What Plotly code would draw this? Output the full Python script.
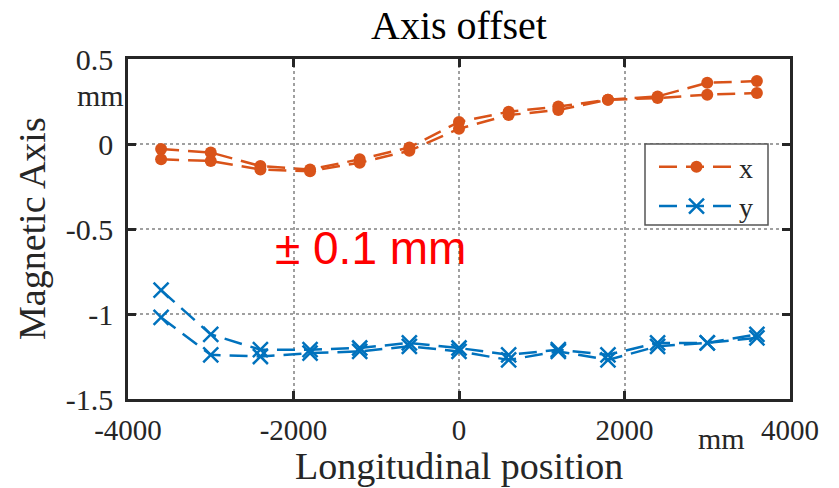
import plotly.graph_objects as go

# Data
positions = [-3600, -3000, -2400, -1800, -1200, -600, 0, 600, 1200, 1800, 2400, 3000, 3600]
x_pass1 = [-0.03, -0.05, -0.13, -0.15, -0.09, -0.02, 0.13, 0.19, 0.22, 0.26, 0.28, 0.36, 0.37]
x_pass2 = [-0.09, -0.10, -0.15, -0.16, -0.11, -0.04, 0.09, 0.17, 0.20, 0.26, 0.27, 0.29, 0.30]
y_pass1 = [-0.86, -1.12, -1.21, -1.21, -1.20, -1.17, -1.20, -1.24, -1.21, -1.24, -1.17, -1.17, -1.12]
y_pass2 = [-1.02, -1.24, -1.25, -1.23, -1.22, -1.19, -1.22, -1.27, -1.22, -1.27, -1.19, -1.17, -1.14]

x_ticks = [-4000, -2000, 0, 2000, 4000]
x_ticktext = ["-4000", "-2000", "0", "2000", "4000"]
y_ticks = [0.5, 0, -0.5, -1, -1.5]
y_ticktext = ["0.5", "0", "-0.5", "-1", "-1.5"]

ORANGE = "#D95319"
BLUE = "#0072BD"
SERIF = "Liberation Serif, Times New Roman, serif"
DASH = "18px,9px"

fig = go.Figure()
for i, ys in enumerate([x_pass1, x_pass2]):
    fig.add_trace(go.Scatter(
        x=positions, y=ys, mode="lines+markers", name="x",
        showlegend=(i == 0), legendgroup="x",
        line=dict(color=ORANGE, width=2.5, dash=DASH),
        marker=dict(color=ORANGE, size=12, symbol="circle"),
    ))
for i, ys in enumerate([y_pass1, y_pass2]):
    fig.add_trace(go.Scatter(
        x=positions, y=ys, mode="lines+markers", name="y",
        showlegend=(i == 0), legendgroup="y",
        line=dict(color=BLUE, width=2.5, dash=DASH),
        marker=dict(color=BLUE, size=15, symbol="x-thin",
                    line=dict(color=BLUE, width=2.5)),
    ))

axis_common = dict(
    showline=True, linecolor="#262626", linewidth=2.5, mirror="ticks",
    ticks="inside", ticklen=8, tickwidth=2.5, tickcolor="#262626",
    showgrid=True, gridcolor="#a0a0a0", griddash="dot", gridwidth=1.5,
    zeroline=False,
    tickfont=dict(family=SERIF, size=30, color="#262626"),
)

fig.update_xaxes(range=[-4000, 4000], tickvals=x_ticks, ticktext=x_ticktext,
                 ticklabelstandoff=3, **axis_common)
fig.update_xaxes(tickfont=dict(size=29))
fig.update_yaxes(range=[-1.5, 0.5], tickvals=y_ticks, ticktext=y_ticktext,
                 ticklabelstandoff=6, **axis_common)

# legend frame (pixel box 645..768 x 144..225 -> paper coords)
W, H, L, T = 662, 340, 128, 59
fig.add_shape(type="rect", xref="paper", yref="paper",
              x0=(645 - L) / W, x1=(768 - L) / W,
              y0=(399 - 225) / H, y1=(399 - 144) / H,
              line=dict(color="#555555", width=1.5), fillcolor="white", layer="above")

fig.update_layout(
    width=839, height=488,
    margin=dict(l=128, r=49, t=59, b=89),
    plot_bgcolor="white", paper_bgcolor="white",
    font=dict(family=SERIF, color="#262626"),
    showlegend=True,
    legend=dict(
        x=(654 - L) / W, y=(399 - 142) / H, xanchor="left", yanchor="top",
        bgcolor="rgba(0,0,0,0)", borderwidth=0,
        font=dict(family=SERIF, size=28, color="#262626"),
        itemwidth=75, tracegroupgap=0,
    ),
    annotations=[
        dict(text="Axis offset", xref="paper", yref="paper", x=0.5, y=1,
             yanchor="middle", yshift=34, showarrow=False,
             font=dict(family=SERIF, size=40, color="black")),
        dict(text="Longitudinal position", xref="paper", yref="paper", x=0.5, y=0,
             yanchor="middle", yshift=-67, showarrow=False,
             font=dict(family=SERIF, size=38, color="#262626")),
        dict(text="Magnetic Axis", xref="paper", yref="paper", x=0, y=0.5,
             xanchor="center", xshift=-96, textangle=-90, showarrow=False,
             font=dict(family=SERIF, size=38, color="#262626")),
        dict(text="mm", xref="paper", yref="paper", x=0, y=1,
             xanchor="right", yanchor="middle", xshift=-2, yshift=-36,
             showarrow=False, font=dict(family=SERIF, size=30, color="#262626")),
        dict(text="mm", xref="paper", yref="paper", x=(721 - L) / W, y=0,
             xanchor="center", yanchor="middle", yshift=-39,
             showarrow=False, font=dict(family=SERIF, size=30, color="#262626")),
        dict(text="± 0.1 mm", xref="x", yref="y", x=-1070, y=-0.61,
             xanchor="center", yanchor="middle", showarrow=False,
             font=dict(family="Liberation Sans, Arial, sans-serif", size=46, color="red")),
    ],
)

fig.write_html("out.html")
